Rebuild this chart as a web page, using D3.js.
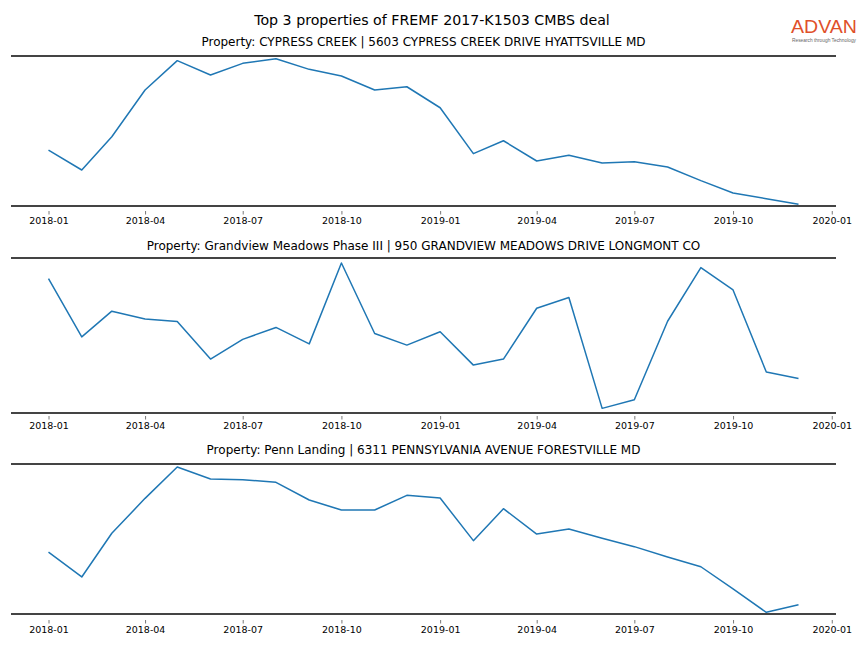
<!DOCTYPE html>
<html>
<head>
<meta charset="utf-8">
<script src="https://cdn.jsdelivr.net/npm/d3@7"></script>
<style>
  html, body { margin: 0; padding: 0; background: #fff; }
  svg { display: block; font-family: "DejaVu Sans", sans-serif; }
</style>
</head>
<body>
<svg id="chart" width="864" height="648"></svg>
<script>
// ---- data (relative index, no y axis shown) ----
const months = ["2018-01","2018-02","2018-03","2018-04","2018-05","2018-06","2018-07","2018-08","2018-09","2018-10","2018-11","2018-12",
                "2019-01","2019-02","2019-03","2019-04","2019-05","2019-06","2019-07","2019-08","2019-09","2019-10","2019-11","2019-12"];
const titles = [
  "Property: CYPRESS CREEK | 5603 CYPRESS CREEK DRIVE HYATTSVILLE MD",
  "Property: Grandview Meadows Phase III | 950 GRANDVIEW MEADOWS DRIVE LONGMONT CO",
  "Property: Penn Landing | 6311 PENNSYLVANIA AVENUE FORESTVILLE MD"
];
const cypressCreek = [37.3,24.0,46.2,77.3,96.9,87.3,95.1,98.2,91.1,86.7,77.3,79.5,
                      65.5,34.9,43.5,30.0,33.8,28.7,29.5,26.0,16.9,8.7,4.9,1.1];
const grandview    = [86.7,49.1,65.7,60.7,59.0,34.8,47.5,55.2,44.6,96.8,51.3,43.8,
                      52.4,30.9,34.8,67.6,74.5,3.0,8.6,59.2,93.8,79.4,26.4,22.3];
const pennLanding  = [41.3,24.7,53.8,77.1,98.0,90.0,89.5,87.8,76.0,69.3,69.3,79.1,
                      77.3,48.9,70.2,53.3,56.7,50.5,44.9,38.0,31.5,16.7,1.1,6.2];
const seriesList = [cypressCreek, grandview, pennLanding];
const yDomain = [0, 100];
const mainTitle = "Top 3 properties of FREMF 2017-K1503 CMBS deal";

// ---- layout ----
const svg = d3.select("#chart");
const W = 864;
const left = 11, right = 836;
const panels = [
  {top: 56,  bottom: 206, axisOff: 5, titleY: 46},
  {top: 258, bottom: 413, axisOff: 3, titleY: 250},
  {top: 464, bottom: 614, axisOff: 6, titleY: 454}
];

const parse = d3.utcParse("%Y-%m");
const dates = months.map(parse);
const t0 = dates[0].getTime(), t1 = dates[dates.length - 1].getTime();
const pad = (t1 - t0) * 0.05;
const x = d3.scaleUtc().domain([new Date(t0 - pad), new Date(t1 + pad)]).range([left, right]);

// main title
svg.append("text")
  .attr("x", W / 2).attr("y", 24.5)
  .attr("text-anchor", "middle")
  .attr("font-size", 14.2)
  .attr("fill", "#000")
  .text(mainTitle);

// logo
const logo = svg.append("g");
logo.append("text")
  .attr("x", 824).attr("y", 33)
  .attr("text-anchor", "middle")
  .attr("font-family", "Liberation Sans, Arial, sans-serif")
  .attr("font-size", 19)
  .attr("fill", "#e0502a")
  .attr("textLength", 66)
  .attr("lengthAdjust", "spacingAndGlyphs")
  .text("ADVAN");
logo.append("text")
  .attr("x", 824).attr("y", 41.5)
  .attr("text-anchor", "middle")
  .attr("font-family", "Liberation Sans, Arial, sans-serif")
  .attr("font-size", 4.5)
  .attr("fill", "#666")
  .attr("textLength", 64)
  .attr("lengthAdjust", "spacingAndGlyphs")
  .text("Research through Technology");

panels.forEach((p, i) => {
  const y = d3.scaleLinear().domain(yDomain).range([p.bottom, p.top]);
  const g = svg.append("g");

  // subplot title
  g.append("text")
    .attr("x", (left + right) / 2).attr("y", p.titleY)
    .attr("text-anchor", "middle")
    .attr("font-size", 12)
    .attr("fill", "#000")
    .text(titles[i]);

  // spines (top & bottom)
  [p.top, p.bottom].forEach(yy => {
    g.append("line")
      .attr("x1", left).attr("x2", right)
      .attr("y1", yy).attr("y2", yy)
      .attr("stroke", "#444").attr("stroke-width", 2);
  });

  // x axis
  const axis = d3.axisBottom(x)
    .ticks(d3.utcMonth.every(3))
    .tickFormat(d3.utcFormat("%Y-%m"))
    .tickSize(3.5)
    .tickPadding(3);
  const ag = g.append("g")
    .attr("transform", `translate(0,${p.bottom + p.axisOff})`)
    .call(axis);
  ag.select(".domain").remove();
  ag.selectAll(".tick line").attr("stroke", "#555").attr("stroke-width", 0.8);
  ag.selectAll(".tick text")
    .attr("font-family", "DejaVu Sans, sans-serif")
    .attr("font-size", 9.5)
    .attr("fill", "#000");

  // line
  const line = d3.line()
    .x((d, k) => x(dates[k]))
    .y(d => y(d));
  g.append("path")
    .datum(seriesList[i])
    .attr("d", line)
    .attr("fill", "none")
    .attr("stroke", "#1f77b4")
    .attr("stroke-width", 1.5)
    .attr("stroke-linejoin", "round");
});
</script>
</body>
</html>
